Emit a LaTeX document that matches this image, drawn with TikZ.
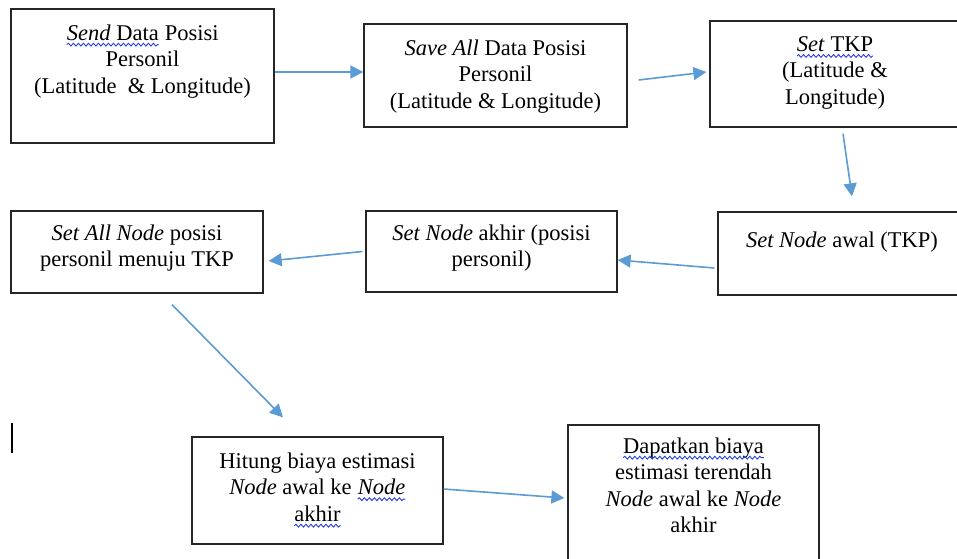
\documentclass[tikz,border=0pt]{standalone}
\usepackage{fontspec}
\setmainfont{Liberation Serif}
\usetikzlibrary{arrows.meta,positioning,decorations.pathmorphing}
\definecolor{arrowblue}{RGB}{91,155,213}
\definecolor{wavyblue}{RGB}{40,60,230}
% blue spell-check wave under a word
\newcommand\wavy[1]{\tikz[baseline=(w.base)]{\node[inner sep=0pt,outer sep=0pt,align=none] (w) {#1};
  \draw[wavyblue,line width=.9pt,decorate,decoration={snake,amplitude=1.4pt,segment length=5pt}] ([yshift=-4.5pt]w.base west) -- ([yshift=-4.5pt]w.base east);}}
\begin{document}
\begin{tikzpicture}[x=1pt,y=-1pt,>={Triangle[length=13pt,width=13pt]},
  box/.style={draw=black!85,line width=1.3pt,inner sep=0pt},
  txt/.style={align=center,inner sep=0pt,font=\fontsize{22.5}{26.5}\selectfont},
  arr/.style={->,draw=arrowblue,line width=1.6pt}]
  \useasboundingbox (0,0) rectangle (957,558);
  \clip (0,0) rectangle (957,558);
	% boxes
	\node[box,minimum width=263pt,minimum height=134pt] (a) at (142.5,76) {};
	\node[box,minimum width=263pt,minimum height=103pt] (b) at (495.5,75.5) {};
	\node[box,minimum width=250pt,minimum height=106pt] (c) at (835,74) {};
	\node[box,minimum width=248pt,minimum height=83pt] (d) at (842,253.5) {};
	\node[box,minimum width=251pt,minimum height=81pt] (e) at (491.5,251.5) {};
	\node[box,minimum width=252pt,minimum height=82pt] (f) at (137,252) {};
	\node[box,minimum width=251pt,minimum height=107pt] (g) at (317.5,490.5) {};
	\node[box,minimum width=251pt,minimum height=145pt] (h) at (693.5,497.5) {};
	% texts
	\node[txt,below=16pt of a.north] (ta) {\wavy{\textit{Send} Data} Posisi\\Personil\\(Latitude \ \& Longitude)};
	\node[txt,below=16pt of b.north] (tb) {\textit{Save All} Data Posisi\\Personil\\(Latitude \& Longitude)};
	\node[txt,below=16pt of c.north] (tc) {\wavy{\textit{Set} TKP}\\(Latitude \&\\Longitude)};
	\node[txt,below=20pt of d.north] (td) {\textit{Set Node} awal (TKP)};
	\node[txt,below=14pt of e.north] (te) {\textit{Set Node} akhir (posisi\\personil)};
	\node[txt,below=14pt of f.north] (tf) {\textit{Set All Node} posisi\\personil menuju TKP};
	\node[txt,below=16pt of g.north] (tg) {Hitung biaya estimasi\\\textit{Node} awal ke \wavy{\textit{Node}}\\\wavy{akhir}};
	\node[txt,below=13pt of h.north] (th) {\wavy{Dapatkan biaya}\\estimasi terendah\\\textit{Node} awal ke \textit{Node}\\akhir};
	% arrows
	\draw[arr] ([yshift=4pt]a.east) -- ([yshift=3.5pt]b.west);
	\draw[arr] ([xshift=11pt,yshift=-4.5pt]b.east) -- ([xshift=-3pt,yshift=2pt]c.west);
	\draw[arr] ([xshift=8pt,yshift=-6pt]c.south) -- ([xshift=10pt,yshift=15pt]d.north);
	\draw[arr] ([xshift=-3pt,yshift=-14.5pt]d.west) -- ([yshift=-8.5pt]e.east);
	\draw[arr] ([xshift=-3pt]e.west) -- ([xshift=5pt,yshift=-9pt]f.east);
	\draw[arr] ([xshift=35pt,yshift=-11pt]f.south) -- ([xshift=-34.5pt,yshift=19pt]g.north);
	\draw[arr] ([yshift=1.5pt]g.east) -- ([xshift=-3pt,yshift=-.5pt]h.west);
	% cursor mark
	\coordinate (cur) at (12,423);
	\draw[line width=1.3pt] (cur) -- ++(0,30);
\end{tikzpicture}
\end{document}
